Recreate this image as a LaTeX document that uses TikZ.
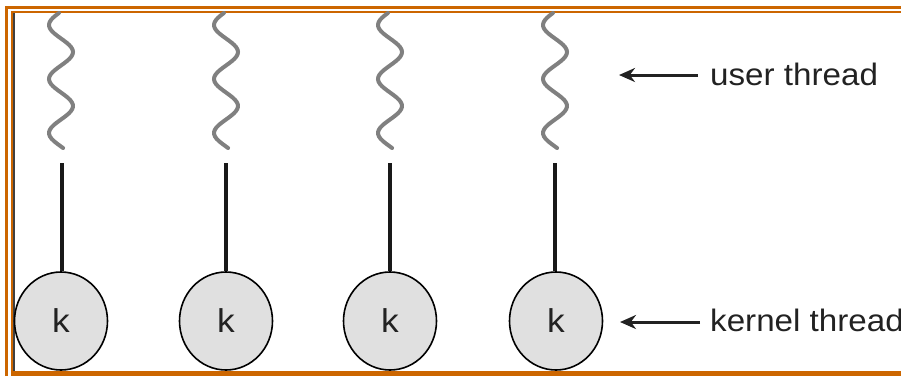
\documentclass[tikz,border=0pt]{standalone}
\usepackage{fontspec}
\usepackage{xcolor}
\usepackage{tikz}
\usetikzlibrary{positioning, shapes.geometric, arrows.meta}
\newfontfamily\labelfont[FakeStretch=1.07]{Liberation Sans}
\definecolor{framecol}{HTML}{CC6600}
\definecolor{kfill}{HTML}{E0E0E0}
\definecolor{txtcol}{HTML}{222222}

\begin{document}
\begin{tikzpicture}[
    x=1pt, y=-1pt,
    every node/.style={font=\labelfont, text=txtcol},
    kthread/.style={draw, ellipse, fill=kfill, line width=1.6pt,
                    minimum width=93pt, minimum height=98pt, inner sep=0pt,
                    font=\labelfont\fontsize{33}{36}\selectfont},
    uthread/.style={draw=gray, line width=4pt, line cap=round},
    link/.style={line width=3.2pt, black!90},
    arrow/.style={-{Stealth[length=16pt, width=14pt]}, line width=3pt, txtcol},
    label/.style={anchor=base west, inner sep=0pt, font=\labelfont\fontsize{31}{34}\selectfont},
    frame/.style={framecol}
]
\useasboundingbox (0,0) rectangle (901,376);

% Frame
\draw[frame, line width=2.7pt] (6.3,376) |- (901,7.3);
\draw[frame, line width=2pt] (11.8,373) |- (901,12);
\draw[black!75, line width=1.5pt] (14.2,13) -- (14.2,371);
\draw[frame, line width=5pt] (11,373.5) -- (901,373.5);

% User threads
\draw[uthread] plot[domain=13:148, samples=60, variable=\t] ({61+12*sin(6.6667*(\t-38.5))}, \t);
\draw[uthread] plot[domain=13:148, samples=60, variable=\t] ({226+12*sin(6.6667*(\t-38.5))}, \t);
\draw[uthread] plot[domain=13:148, samples=60, variable=\t] ({390+12*sin(6.6667*(\t-38.5))}, \t);
\draw[uthread] plot[domain=13:148, samples=60, variable=\t] ({555+12*sin(6.6667*(\t-38.5))}, \t);

% Kernel threads
\node[kthread] (k1) at (61,321) {k};
\node[kthread] (k2) at (226,321) {k};
\node[kthread] (k3) at (390,321) {k};
\node[kthread] (k4) at (556,321) {k};

\coordinate (top1) at (62,163);
\coordinate (top2) at (226,163);
\coordinate (top3) at (390,163);
\coordinate (top4) at (555,163);

\draw[link] (top1) -- (top1 |- k1.north);
\draw[link] (top2) -- (top2 |- k2.north);
\draw[link] (top3) -- (top3 |- k3.north);
\draw[link] (top4) -- (top4 |- k4.north);

% Labels
\node[label] (ulabel) at (710,85) {user thread};
\node[label] (klabel) at (710,331) {kernel thread};

\coordinate (uarrow) at (619,75);
\coordinate (karrow) at (620,322);
\draw[arrow] (ulabel.west |- uarrow) ++(-12,0) -- (uarrow);
\draw[arrow] (klabel.west |- karrow) ++(-10,0) -- (karrow);

\end{tikzpicture}
\end{document}
